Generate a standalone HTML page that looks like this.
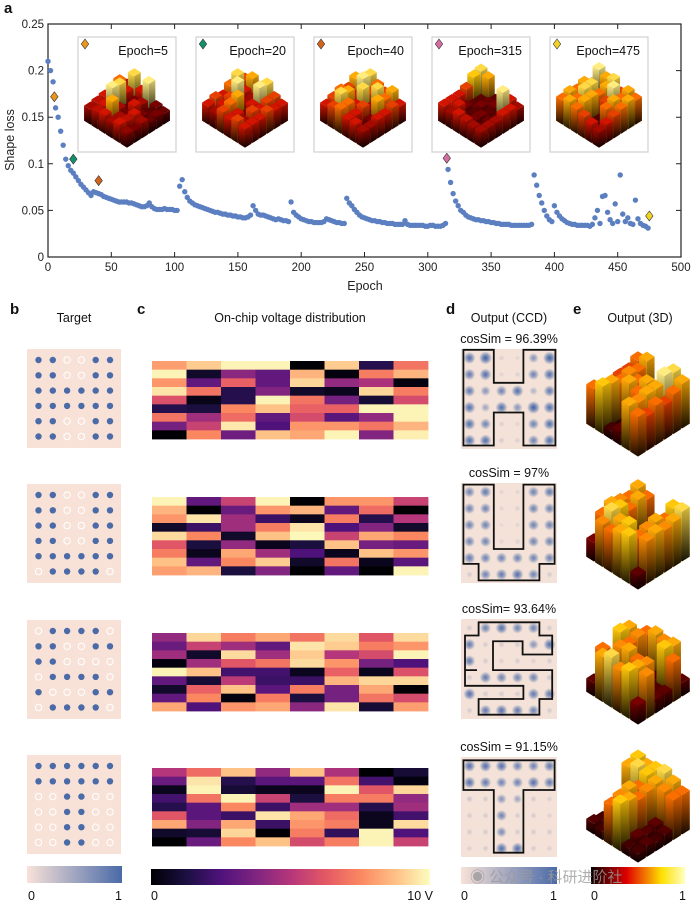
<!DOCTYPE html>
<html><head><meta charset="utf-8">
<style>
html,body{margin:0;padding:0;background:#fff;}
svg{display:block;font-family:"Liberation Sans","Noto Sans CJK SC",sans-serif;}
</style></head>
<body>
<svg id="fig" width="695" height="906" viewBox="0 0 695 906" xmlns="http://www.w3.org/2000/svg">
<defs>
<radialGradient id="blurdot"><stop offset="0" stop-color="#3d5fa6" stop-opacity="1"/><stop offset="0.45" stop-color="#4a6aa8" stop-opacity="0.7"/><stop offset="1" stop-color="#4a6aa8" stop-opacity="0"/></radialGradient>
<linearGradient id="shade" x1="0" y1="0" x2="0" y2="1"><stop offset="0" stop-color="#000" stop-opacity="0.0"/><stop offset="1" stop-color="#000" stop-opacity="0.9"/></linearGradient>
<linearGradient id="cbBlue" x1="0" x2="1"><stop offset="0" stop-color="#f8e2d8"/><stop offset="1" stop-color="#4a6aa8"/></linearGradient>
<linearGradient id="cbMagma" x1="0" x2="1">
<stop offset="0" stop-color="#000004"/><stop offset="0.13" stop-color="#1c1044"/><stop offset="0.25" stop-color="#4f127b"/><stop offset="0.38" stop-color="#812581"/><stop offset="0.5" stop-color="#b5367a"/><stop offset="0.63" stop-color="#e55964"/><stop offset="0.75" stop-color="#fb8761"/><stop offset="0.88" stop-color="#fec287"/><stop offset="1" stop-color="#fcfdbf"/></linearGradient>
<linearGradient id="cbHot" x1="0" x2="1"><stop offset="0" stop-color="#0a0000"/><stop offset="0.38" stop-color="#e00000"/><stop offset="0.75" stop-color="#ffe000"/><stop offset="1" stop-color="#ffffc0"/></linearGradient>
</defs>
<g id="panelA"></g>
<g id="panelB"></g>
<g id="panelC"></g>
<g id="panelD"></g>
<g id="panelE"></g>
<g id="labels"></g>
</svg>
<script>
// ---------- data ----------
const lossEpochStep = 2;
const lossValues = [0.21,0.20,0.188,0.16,0.15,0.135,0.12,0.105,0.098,0.093,0.09,0.086,0.082,0.078,0.075,0.072,0.069,0.066,0.07,0.069,0.068,0.067,0.065,0.064,0.063,0.062,0.061,0.060,0.059,0.059,0.059,0.059,0.058,0.058,0.057,0.056,0.055,0.054,0.054,0.055,0.058,0.054,0.052,0.051,0.051,0.051,0.052,0.051,0.051,0.051,0.050,0.050,0.076,0.083,0.070,0.064,0.060,0.058,0.056,0.055,0.054,0.053,0.052,0.051,0.050,0.049,0.048,0.048,0.047,0.046,0.046,0.045,0.045,0.044,0.044,0.043,0.043,0.042,0.042,0.043,0.045,0.055,0.050,0.046,0.045,0.045,0.044,0.043,0.042,0.041,0.040,0.041,0.040,0.039,0.039,0.038,0.059,0.048,0.045,0.043,0.041,0.040,0.039,0.038,0.038,0.037,0.037,0.037,0.037,0.038,0.041,0.040,0.039,0.038,0.037,0.037,0.036,0.036,0.063,0.058,0.055,0.051,0.048,0.045,0.043,0.042,0.041,0.040,0.039,0.039,0.038,0.038,0.037,0.037,0.036,0.036,0.036,0.035,0.035,0.035,0.035,0.039,0.035,0.034,0.034,0.034,0.034,0.034,0.034,0.033,0.033,0.034,0.034,0.033,0.033,0.033,0.034,0.036,0.094,0.080,0.068,0.060,0.055,0.050,0.048,0.045,0.043,0.042,0.041,0.040,0.040,0.039,0.039,0.038,0.038,0.037,0.037,0.036,0.036,0.035,0.035,0.035,0.035,0.034,0.034,0.034,0.034,0.034,0.034,0.034,0.034,0.035,0.088,0.077,0.066,0.058,0.050,0.044,0.040,0.038,0.055,0.048,0.044,0.041,0.039,0.037,0.036,0.035,0.035,0.034,0.034,0.034,0.034,0.034,0.033,0.035,0.042,0.050,0.036,0.065,0.066,0.048,0.040,0.036,0.057,0.038,0.088,0.046,0.038,0.042,0.036,0.035,0.061,0.041,0.036,0.034,0.033,0.031];
const markerEpochs = [5,20,40,315,475];
const markerLosses = [0.172,0.105,0.082,0.106,0.044];
const markerColors = ['#e8961c','#14906a','#d2651e','#d26ea0','#f0d424'];
const xTicks = [0,50,100,150,200,250,300,350,400,450,500];
const yTicks = [0,0.05,0.1,0.15,0.2,0.25];
const yTickLabels = ['0','0.05','0.1','0.15','0.2','0.25'];
const insetLabels = ['Epoch=5','Epoch=20','Epoch=40','Epoch=315','Epoch=475'];
const inset1 = [0.4,0.9,0.5,0.95,0.3,0.25, 0.7,0.5,0.3,0.4,0.2,0.3, 0.6,0.9,0.2,0.5,0.3,0.25, 0.5,0.95,0.4,0.3,0.5,0.4, 0.45,0.5,0.8,0.4,0.45,0.3, 0.4,0.45,0.5,0.4,0.5,0.35];
const inset2 = [0.6,0.8,0.5,0.9,0.6,0.5, 0.9,0.5,0.4,0.95,0.6,0.5, 0.7,0.95,0.4,0.5,0.5,0.6, 0.5,0.6,0.8,0.3,0.6,0.5, 0.6,0.5,0.7,0.5,0.4,0.5, 0.5,0.4,0.6,0.5,0.6,0.5];
const inset3 = [0.5,0.9,0.7,0.6,0.8,0.5, 0.8,0.95,0.6,0.9,0.7,0.6, 0.6,0.5,0.9,0.4,0.8,0.5, 0.7,0.8,0.5,0.6,0.3,0.5, 0.6,0.9,0.7,0.5,0.2,0.4, 0.5,0.6,0.7,0.5,0.5,0.4];
const inset4 = [0.9,0.8,0.2,0.6,0.5,0.4, 0.85,0.2,0.25,0.3,0.95,0.5, 0.6,0.2,0.3,0.2,0.2,0.5, 0.5,0.3,0.2,0.3,0.25,0.4, 0.5,0.5,0.2,0.3,0.2,0.4, 0.5,0.4,0.5,0.45,0.4,0.4];
const inset5 = [0.95,0.8,0.9,0.6,0.8,0.7, 0.6,0.2,0.8,0.95,0.7,0.8, 0.8,0.9,0.7,0.6,0.8,0.7, 0.7,0.9,0.8,0.15,0.7,0.6, 0.8,0.7,0.8,0.2,0.2,0.5, 0.7,0.8,0.7,0.6,0.5,0.4];
const targetH = [1,1,0,0,1,1, 1,1,0,0,1,1, 1,1,1,1,1,1, 1,1,1,1,1,1, 1,1,0,0,1,1, 1,1,0,0,1,1];
const targetU = [1,1,0,0,1,1, 1,1,0,0,1,1, 1,1,0,0,1,1, 1,1,0,0,1,1, 1,1,1,1,1,1, 0,1,1,1,1,0];
const targetS = [0,1,1,1,1,0, 1,1,0,0,1,1, 1,1,0,0,0,0, 0,1,1,1,1,0, 1,0,0,0,1,1, 0,1,1,1,1,0];
const targetT = [1,1,1,1,1,1, 1,1,1,1,1,1, 0,0,1,1,0,0, 0,0,1,1,0,0, 0,0,1,1,0,0, 0,0,1,1,0,0];
const volt1 = [0.8,0.9,0.98,0.98,0.0,0.9,0.15,0.7, 0.98,0.08,0.4,0.3,0.85,0.02,0.72,0.85, 0.78,0.3,0.65,0.3,0.92,0.42,0.48,0.02, 0.95,0.7,0.15,0.38,0.08,0.05,0.92,0.72, 0.6,0.04,0.15,0.98,0.7,0.35,0.1,0.58, 0.15,0.12,0.75,0.88,0.65,0.65,0.98,0.98, 0.7,0.45,0.68,0.3,0.58,0.28,0.42,0.98, 0.35,0.55,0.96,0.25,0.78,0.78,0.7,0.85, 0.0,0.75,0.33,0.88,0.82,0.98,0.38,0.97];
const volt2 = [0.98,0.3,0.55,0.98,0.0,0.78,0.78,0.55, 0.85,0.0,0.32,0.78,0.85,0.3,0.68,0.0, 0.78,0.95,0.45,0.2,0.05,0.72,0.15,0.5, 0.08,0.2,0.45,0.72,0.95,0.25,0.38,0.08, 0.93,0.75,0.08,0.88,0.99,0.55,0.82,0.75, 0.62,0.12,0.42,0.05,0.12,0.88,0.35,0.32, 0.72,0.05,0.82,0.45,0.25,0.05,0.88,0.78, 0.88,0.3,0.75,0.9,0.08,0.7,0.05,0.28, 0.8,0.85,0.12,0.38,0.0,0.3,0.0,0.98];
const volt3 = [0.42,0.92,0.72,0.82,0.7,0.93,0.62,0.93, 0.32,0.55,0.45,0.3,0.95,0.9,0.72,0.78, 0.45,0.08,0.93,0.45,0.9,0.5,0.58,0.98, 0.02,0.45,0.62,0.7,0.93,0.78,0.35,0.25, 0.98,0.88,0.22,0.22,0.05,0.65,0.05,0.6, 0.3,0.1,0.52,0.2,0.2,0.85,0.92,0.92, 0.08,0.65,0.88,0.28,0.72,0.35,0.82,0.0, 0.3,0.75,0.02,0.72,0.12,0.35,0.7,0.58, 0.82,0.25,0.78,0.82,0.4,0.95,0.1,0.8];
const volt4 = [0.5,0.68,0.88,0.42,0.88,0.48,0.0,0.1, 0.32,0.95,0.15,0.28,0.28,0.7,0.22,0.02, 0.05,0.98,0.1,0.05,0.05,0.98,0.62,0.92, 0.22,0.7,0.98,0.55,0.12,0.72,0.72,0.42, 0.15,0.28,0.75,0.2,0.45,0.45,0.15,0.45, 0.62,0.28,0.2,0.95,0.82,0.68,0.05,0.22, 0.82,0.38,0.82,0.2,0.78,0.72,0.05,0.93, 0.08,0.1,0.92,0.0,0.72,0.18,0.98,0.25, 0.0,0.32,0.75,0.88,0.58,0.72,0.98,0.55];
const ccd1 = [0.9,1,0.25,0.2,0.7,1, 0.85,0.9,0.2,0.25,0.8,0.9, 0.85,0.7,0.8,0.9,0.5,0.85, 0.9,0.6,0.9,0.7,1,0.9, 0.9,0.8,0.25,0.2,0.8,0.9, 0.9,0.9,0.3,0.25,0.8,0.9];
const ccd2 = [0.8,0.85,0.2,0.2,0.8,0.85, 0.8,0.8,0.2,0.25,0.8,0.8, 0.8,0.8,0.15,0.2,0.8,0.8, 0.8,0.8,0.2,0.25,0.8,0.8, 0.85,0.8,0.8,0.8,0.8,0.8, 0.3,0.8,0.85,0.9,0.8,0.3];
const ccd3 = [0.3,0.8,0.9,0.8,0.8,0.3, 0.85,0.3,0.3,0.3,0.7,0.9, 0.85,0.3,0.25,0.3,0.25,0.3, 0.3,0.85,0.8,0.8,0.8,0.35, 0.9,0.3,0.3,0.3,0.85,0.85, 0.3,0.85,0.9,0.85,0.8,0.3];
const ccd4 = [0.9,0.9,0.9,0.8,0.8,0.85, 0.9,0.85,0.8,0.8,0.9,0.85, 0.35,0.3,0.7,0.6,0.3,0.25, 0.3,0.3,0.8,0.3,0.3,0.25, 0.3,0.3,0.75,0.3,0.3,0.3, 0.25,0.3,0.9,0.9,0.3,0.25];
const cosSimLabels = ['cosSim = 96.39%','cosSim = 97%','cosSim= 93.64%','cosSim = 91.15%'];
const out1 = [0.7,0.8,0.1,0.2,0.9,0.8, 0.6,0.7,0.1,0.05,0.95,0.7, 0.6,0.75,0.7,0.8,0.8,0.6, 0.5,0.7,0.8,0.7,0.8,0.7, 0.6,0.8,0.05,0.1,0.75,0.6, 0.7,0.85,0.1,0.2,0.8,0.7];
const out2 = [0.8,0.7,0.2,0.1,0.85,0.9, 0.7,0.8,0.15,0.1,0.7,0.8, 0.75,0.7,0.1,0.05,0.8,0.75, 0.8,0.85,0.1,0.1,0.75,0.8, 0.7,0.9,0.8,0.85,0.7,0.75, 0.3,0.75,0.7,0.8,0.85,0.2];
const out3 = [0.2,0.7,0.8,0.75,0.8,0.2, 0.8,0.75,0.2,0.15,0.85,0.7, 0.85,0.7,0.2,0.1,0.15,0.2, 0.2,0.75,0.8,0.7,0.75,0.2, 0.7,0.15,0.1,0.2,0.8,0.75, 0.2,0.8,0.9,0.75,0.85,0.3];
const out4 = [0.85,0.8,0.85,0.9,0.8,0.7, 0.8,0.9,0.85,0.8,0.75,0.7, 0.2,0.15,0.7,0.75,0.2,0.15, 0.15,0.2,0.8,0.7,0.15,0.1, 0.1,0.15,0.75,0.8,0.2,0.15, 0.15,0.1,0.7,0.85,0.1,0.1];

// ---------- helpers ----------
const NS='http://www.w3.org/2000/svg';
function mk(parent,tag,attrs,txt){const e=document.createElementNS(NS,tag);for(const k in attrs)e.setAttribute(k,attrs[k]);if(txt!==undefined)e.textContent=txt;parent.appendChild(e);return e;}
function lerpStops(stops,v){v=Math.max(0,Math.min(1,v));for(let i=1;i<stops.length;i++){if(v<=stops[i][0]){const a=stops[i-1],b=stops[i];const t=(v-a[0])/(b[0]-a[0]||1);const c=[0,1,2].map(k=>Math.round(a[1][k]+(b[1][k]-a[1][k])*t));return 'rgb('+c.join(',')+')';}}const l=stops[stops.length-1][1];return 'rgb('+l.join(',')+')';}
const magmaStops=[[0,[0,0,4]],[0.13,[28,16,68]],[0.25,[79,18,123]],[0.38,[129,37,129]],[0.5,[181,54,122]],[0.63,[229,89,100]],[0.75,[251,135,97]],[0.88,[254,194,135]],[1,[252,253,191]]];
const hotStops=[[0,[40,0,0]],[0.3,[120,0,0]],[0.5,[210,20,0]],[0.7,[250,110,0]],[0.85,[255,200,10]],[1,[255,255,190]]];
const magma=v=>lerpStops(magmaStops,v), hot=v=>lerpStops(hotStops,v);

// ---------- panel a ----------
const A=document.getElementById('panelA');
const px0=48,px1=681,py0=257,py1=24;
const xS=e=>px0+(e/500)*(px1-px0);
const yS=v=>py0-(v/0.25)*(py0-py1);
const frame=mk(A,'rect',{x:px0,y:py1,width:px1-px0,height:py0-py1,fill:'none',stroke:'#222','stroke-width':1.2});


xTicks.forEach(t=>{
  const x=xS(t);
  const tk=mk(A,'path',{d:`M${x},${py0}v-5M${x},${py1}v5`,stroke:'#222','stroke-width':1});
  
  
  const lb=mk(A,'text',{x:x,y:py0+14,'font-size':11.5,'text-anchor':'middle',fill:'#222'},String(t));
  
  
});
yTicks.forEach((t,i)=>{
  const y=yS(t);
  const tk=mk(A,'path',{d:`M${px0},${y}h5M${px1},${y}h-5`,stroke:'#222','stroke-width':1});
  
  
  const lb=mk(A,'text',{x:px0-4,y:y+4,'font-size':11.5,'text-anchor':'end',fill:'#222'},yTickLabels[i]);
  
  
});
const xt=mk(A,'text',{x:365,y:290,'font-size':12.5,'text-anchor':'middle',fill:'#222'},'Epoch');


const yt=mk(A,'text',{x:0,y:0,'font-size':12.5,'text-anchor':'middle',fill:'#222',transform:'translate(14,140) rotate(-90)'},'Shape loss');


lossValues.forEach((v,i)=>{
  const c=mk(A,'circle',{cx:xS(i*lossEpochStep),cy:yS(v),r:2.7,fill:'#5b7fc0'});
  
  
});
function diamond(parent,x,y,s,col){return mk(parent,'path',{d:`M${x},${y-s}L${x+s*0.75},${y}L${x},${y+s}L${x-s*0.75},${y}Z`,fill:col,stroke:'#333','stroke-width':0.6});}
markerEpochs.forEach((e,i)=>{
  const d=diamond(A,xS(e),yS(markerLosses[i]),5,markerColors[i]);
  
  
});

// 3D isometric bars
function bars3d(parent,vals,cx,topY,hx,hy,H){
  const g=mk(parent,'g',{});
  const cells=[];
  for(let r=0;r<6;r++)for(let c=0;c<6;c++)cells.push([r,c]);
  cells.sort((a,b)=>(a[0]+a[1])-(b[0]+b[1]) || a[1]-b[1]);
  const s=0.88, ax=hx*s, ay=hy*s;
  cells.forEach(([r,c])=>{
    const v=vals[r*6+c];
    const h=3+v*H;
    const x=cx+(c-r)*hx, y=topY+(c+r)*hy+(hy-ay);
    const col=hot(v);
    const L=`M${x-ax},${y+ay-h}L${x},${y+2*ay-h}L${x},${y+2*ay}L${x-ax},${y+ay}Z`;
    const R=`M${x+ax},${y+ay-h}L${x},${y+2*ay-h}L${x},${y+2*ay}L${x+ax},${y+ay}Z`;
    const T=`M${x},${y-h}L${x+ax},${y+ay-h}L${x},${y+2*ay-h}L${x-ax},${y+ay-h}Z`;
    const b=mk(g,'g',{});
    
    
    mk(b,'path',{d:L,fill:col});
    mk(b,'path',{d:L,fill:'url(#shade)'});
    mk(b,'path',{d:R,fill:col});
    mk(b,'path',{d:R,fill:'url(#shade)'});
    mk(b,'path',{d:R,fill:'#000',opacity:0.15});
    mk(b,'path',{d:T,fill:col});
  });
  return g;
}
const insetX=[78,196,314,432,550];
const insetData=[inset1,inset2,inset3,inset4,inset5];
insetX.forEach((x0,i)=>{
  const g=mk(A,'g',{});
  
  
  mk(g,'rect',{x:x0,y:37,width:98,height:115,fill:'#fff',stroke:'#d0d0d0','stroke-width':1.2});
  const d=diamond(g,x0+7,44,5,markerColors[i]);
  
  
  const t=mk(g,'text',{x:x0+90,y:55,'font-size':12.5,'text-anchor':'end',fill:'#111'},insetLabels[i]);
  
  
  bars3d(g,insetData[i],x0+49,93,7.3,4.6,30);
});

// ---------- panels b,c,d,e ----------
const rowTops=[349,484,620,755];
const B=document.getElementById('panelB');
[targetH,targetU,targetS,targetT].forEach((pat,k)=>{
  const g=mk(B,'g',{});
  
  
  mk(g,'rect',{x:27,y:rowTops[k],width:94,height:99,fill:'#f8e2d8'});
  pat.forEach((v,i)=>{
    const r=Math.floor(i/6),c=i%6;
    const cx=38.5+c*14.3, cy=rowTops[k]+11+r*15.3;
    const dot=v? mk(g,'circle',{cx:cx,cy:cy,r:3.2,fill:'#4a6aa8'}) : mk(g,'circle',{cx:cx,cy:cy,r:3.2,fill:'none',stroke:'#fff','stroke-width':1});
    
    
  });
});
const C=document.getElementById('panelC');
const hmTops=[361,497,633,768];
[volt1,volt2,volt3,volt4].forEach((vals,k)=>{
  const g=mk(C,'g',{});
  
  
  const cw=(428-152)/8, ch=78/9;
  vals.forEach((v,i)=>{
    const r=Math.floor(i/8),c=i%8;
    const cell=mk(g,'rect',{x:152+c*cw,y:hmTops[k]+r*ch,width:cw+0.4,height:ch+0.4,fill:magma(v)});
    
    
  });
});
const D=document.getElementById('panelD');
const ccdTops=[349,483,619,757];
const outlines=[
 [[0.15,0.05],[2.05,0.05],[2.05,2.05],[3.9,2.05],[3.9,0.05],[5.9,0.05],[5.9,5.85],[3.9,5.85],[3.9,3.85],[2.05,3.85],[2.05,5.85],[0.15,5.85]],
 [[0.15,0.1],[2.05,0.1],[2.05,4.0],[3.9,4.0],[3.9,0.1],[5.85,0.1],[5.85,4.9],[4.9,4.9],[4.9,5.9],[1.1,5.9],[1.1,4.9],[0.15,4.9]],
 [[1.1,0.2],[4.9,0.2],[4.9,1.0],[5.7,1.0],[5.7,2.15],[3.85,2.15],[3.85,1.35],[2.0,1.35],[2.0,3.1],[5.7,3.1],[5.7,4.85],[4.9,4.85],[4.9,5.8],[1.1,5.8],[1.1,4.85],[3.9,4.85],[3.9,4.05],[0.25,4.05],[0.25,3.1],[1.0,3.1],[0.25,3.1],[0.25,1.0],[1.1,1.0]],
 [[0.15,0.2],[5.85,0.2],[5.85,2.0],[3.9,2.0],[3.9,5.8],[2.05,5.8],[2.05,2.0],[0.15,2.0]]
];
[ccd1,ccd2,ccd3,ccd4].forEach((vals,k)=>{
  const g=mk(D,'g',{});
  
  
  const x0=461,y0=ccdTops[k];
  mk(g,'rect',{x:x0,y:y0,width:96,height:100,fill:'#f4e2d8'});
  vals.forEach((v,i)=>{
    const r=Math.floor(i/6),c=i%6;
    const dot=mk(g,'circle',{cx:x0+8.5+c*16,cy:y0+9+r*16.5,r:2+4.5*v,fill:'url(#blurdot)','fill-opacity':Math.min(1,Math.pow(v,1.6)+0.05)});
    
    
  });
  const pts=outlines[k].map(p=>(x0+p[0]*16)+','+(y0+p[1]*16.5)).join(' ');
  const ol=mk(g,'polygon',{points:pts,fill:'none',stroke:'#111','stroke-width':1.8,'stroke-linejoin':'miter'});
  
  
  const t=mk(g,'text',{x:509,y:y0-6,'font-size':12.5,'text-anchor':'middle',fill:'#111'},cosSimLabels[k]);
  
  
});
const E=document.getElementById('panelE');
const eTopY=[390,523,658,796];
[out1,out2,out3,out4].forEach((vals,k)=>{
  const g=bars3d(E,vals,638,eTopY[k],8.8,5.6,52);
  
  
});

// ---------- labels & colorbars ----------
const Lb=document.getElementById('labels');
const labs=[['a',4,13,15,'bold','start'],['b',10,314,15,'bold','start'],['c',137,314,15,'bold','start'],['d',446,314,15,'bold','start'],['e',573,314,15,'bold','start'],
 ['Target',74,322,12.5,'normal','middle'],['On-chip voltage distribution',290,322,12.5,'normal','middle'],['Output (CCD)',509,322,12.5,'normal','middle'],['Output (3D)',640,322,12.5,'normal','middle']];
labs.forEach(l=>{
  const t=mk(Lb,'text',{x:l[1],y:l[2],'font-size':l[3],'font-weight':l[4],'text-anchor':l[5],fill:'#111'},l[0]);
  
  
});
const cbs=[[27,866,95,17,'url(#cbBlue)'],[151,869,279,16,'url(#cbMagma)'],[461,867,96,17,'url(#cbBlue)'],[591,867,94,17,'url(#cbHot)']];
cbs.forEach(c=>{
  const r=mk(Lb,'rect',{x:c[0],y:c[1],width:c[2],height:c[3],fill:c[4]});
  
  
});
const cbl=[['0',28,'start'],['1',122,'end'],['0',151,'start'],['10 V',433,'end'],['0',461,'start'],['1',557,'end'],['0',591,'start'],['1',686,'end']];
cbl.forEach(l=>{
  const t=mk(Lb,'text',{x:l[1],y:900,'font-size':12.5,'text-anchor':l[2],fill:'#111'},l[0]);
  
  
});
const wm=mk(Lb,'text',{x:470,y:882,'font-size':15,fill:'#9a9a9a','fill-opacity':0.8},'◉ 公众号 · 科研进阶社');


</script>
</body></html>
